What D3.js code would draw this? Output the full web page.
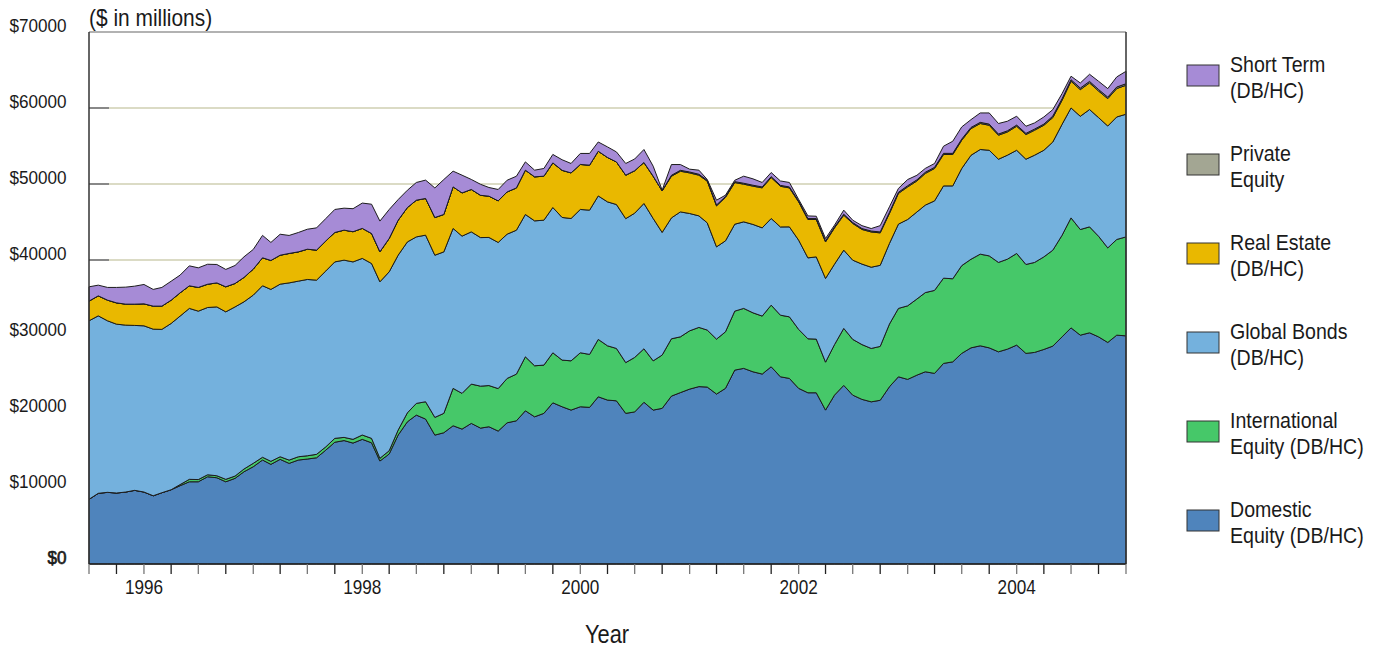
<!DOCTYPE html>
<html>
<head>
<meta charset="utf-8">
<script src="https://cdn.jsdelivr.net/npm/d3@7"></script>
<style>
  html, body { margin: 0; padding: 0; background: #ffffff; }
  svg { display: block; font-family: "Liberation Sans", Arial, sans-serif; }
</style>
</head>
<body>
<svg id="chart" width="1375" height="647"></svg>
<script>
// Monthly asset values, $ in millions, July 1995 through January 2005
const months = d3.timeMonth.range(new Date(1995, 6, 1), new Date(2005, 1, 1));

const domesticEquity = [
  8510, 9300, 9430, 9340, 9470, 9690, 9470, 8980, 9380, 9770,
  10300, 10820, 10820, 11480, 11350, 10820, 11270, 12140, 12800, 13680,
  13110, 13770, 13240, 13680, 13810, 13980, 14990, 16020, 16240, 15910,
  16400, 15950, 13550, 14470, 16960, 18710, 19590, 19070, 16960, 17270,
  18190, 17750, 18500, 17880, 18060, 17490, 18580, 18840, 20160, 19370,
  19820, 21210, 20690, 20250, 20690, 20610, 22000, 21570, 21470, 19820,
  20010, 21280, 20250, 20480, 22090, 22550, 23010, 23340, 23280, 22360,
  23110, 25510, 25740, 25290, 24990, 25950, 24630, 24420, 23110, 22530,
  22530, 20250, 22220, 23500, 22220, 21660, 21340, 21540, 23320, 24630,
  24290, 24850, 25290, 25080, 26390, 26600, 27710, 28440, 28710, 28440,
  27920, 28270, 28800, 27710, 27840, 28230, 28670, 29890, 31070, 30110,
  30420, 29890, 29150, 30110, 30020
];

const internationalEquity = [
  0, 0, 0, 0, 0, 0, 0, 0, 0, 0,
  150, 320, 290, 260, 260, 320, 300, 360, 450, 360,
  400, 340, 430, 430, 430, 450, 430, 510, 420, 490,
  570, 580, 360, 430, 660, 1180, 1540, 2280, 2330, 2550,
  4920, 4700, 5170, 5520, 5420, 5590, 5840, 6140, 7100, 6710,
  6350, 6580, 6140, 6480, 7100, 6970, 7550, 7140, 6890, 6680,
  7170, 7040, 6480, 7010, 7540, 7340, 7670, 7790, 7500, 7230,
  7440, 7760, 7890, 7760, 7630, 8110, 8110, 8100, 7760, 7100,
  7060, 6310, 6640, 7500, 7340, 7210, 7020, 7090, 8250, 9000,
  9680, 10020, 10420, 10920, 11220, 10930, 11550, 11660, 12060, 12100,
  11760, 11840, 12060, 11700, 11840, 12180, 12620, 13370, 14470, 13900,
  13940, 13240, 12440, 12590, 13020
];

const globalBonds = [
  23490, 23350, 22570, 22220, 21960, 21700, 21870, 21920, 21490, 21880,
  22170, 22490, 22160, 22010, 22220, 22040, 22260, 22000, 22130, 22570,
  22620, 22710, 23320, 23110, 23200, 22920, 23140, 23220, 23320, 23350,
  23240, 23010, 23220, 23540, 23010, 22490, 21910, 21920, 21340, 21250,
  21040, 20690, 20030, 19550, 19490, 19230, 18980, 18940, 18730, 19070,
  19070, 19120, 18770, 18730, 18860, 18980, 18880, 18940, 18940, 18940,
  18980, 19120, 18730, 16140, 15910, 16440, 15440, 14680, 14110, 12140,
  11970, 11440, 11390, 11630, 11610, 11400, 11610, 11840, 11740, 10650,
  10820, 11010, 10590, 10300, 10420, 10590, 10690, 10670, 10610, 11090,
  11360, 11450, 11510, 11780, 12140, 12220, 12780, 13680, 13770, 13900,
  13580, 13680, 13580, 13850, 14110, 14030, 14240, 14600, 14470, 14900,
  15440, 15610, 16040, 16120, 16140
];

const realEstate = [
  2590, 2630, 2720, 2800, 2760, 2800, 2890, 3030, 3060, 3060,
  3060, 2970, 3120, 3060, 3160, 3290, 3080, 3210, 3420, 3680,
  3810, 3810, 3870, 3850, 3980, 3950, 3950, 3870, 3950, 3970,
  3950, 3950, 3950, 4390, 4600, 4520, 4830, 4830, 4960, 4920,
  5470, 5690, 5580, 5560, 5430, 5470, 5560, 5560, 5830, 5790,
  5790, 5870, 6200, 6000, 5920, 5920, 5880, 5840, 5600, 5720,
  5590, 5390, 5560, 5470, 5480, 5350, 5340, 5350, 5480, 5390,
  5710, 5480, 4960, 5040, 5260, 5390, 5350, 5130, 5040, 5050,
  4920, 4810, 4770, 4600, 4830, 4560, 4640, 4270, 3950, 4040,
  4290, 4080, 4170, 4260, 4130, 4130, 3720, 3510, 3420, 3290,
  3160, 3060, 3160, 3250, 3290, 3290, 3210, 3160, 3510, 3510,
  3500, 3500, 3600, 3740, 3810
];

const privateEquity = [
  0, 0, 0, 0, 0, 0, 0, 0, 0, 0,
  0, 0, 0, 0, 0, 0, 0, 0, 0, 0,
  0, 0, 0, 0, 0, 0, 0, 0, 0, 0,
  0, 0, 0, 0, 0, 0, 0, 0, 0, 0,
  0, 0, 0, 0, 0, 0, 0, 0, 0, 0,
  0, 0, 0, 0, 0, 0, 0, 0, 0, 0,
  0, 0, 0, 0, 120, 120, 120, 120, 120, 120,
  120, 120, 120, 120, 120, 120, 120, 120, 120, 120,
  120, 120, 120, 120, 120, 120, 120, 120, 150, 150,
  150, 150, 150, 150, 150, 150, 150, 150, 150, 150,
  150, 150, 150, 150, 150, 150, 200, 200, 200, 200,
  200, 200, 200, 200, 200
];

const shortTerm = [
  1880, 1410, 1670, 2030, 2240, 2370, 2550, 2200, 2460, 2500,
  2330, 2630, 2580, 2630, 2420, 2290, 2370, 2710, 2590, 2950,
  2370, 2760, 2370, 2550, 2630, 2930, 2950, 3030, 2890, 3030,
  3330, 3850, 4040, 3810, 2720, 2280, 2330, 2410, 3890, 4600,
  2070, 2330, 1320, 1450, 1140, 1500, 1540, 1540, 1090, 880,
  1010, 1110, 1390, 1240, 1450, 1540, 1220, 1390, 1320, 1540,
  1540, 1710, 1320, 90, 1420, 760, 370, 540, 100, 630,
  180, 180, 930, 840, 590, 540, 580, 590, 200, 350,
  310, 330, 240, 540, 310, 380, 330, 830, 720, 510,
  820, 600, 510, 510, 940, 1600, 1600, 1030, 1240, 1470,
  1390, 1260, 1170, 940, 810, 940, 850, 680, 460, 670,
  940, 1080, 1120, 1330, 1640
];

const seriesKeys = ["domestic", "international", "bonds", "realEstate", "privateEquity", "shortTerm"];
const seriesColors = {
  domestic: "#4f84bc",
  international: "#46c869",
  bonds: "#74b1dd",
  realEstate: "#e9b800",
  privateEquity: "#a3a693",
  shortTerm: "#a68bd6"
};
const legendItems = [
  { key: "shortTerm", lines: ["Short Term", "(DB/HC)"] },
  { key: "privateEquity", lines: ["Private", "Equity"] },
  { key: "realEstate", lines: ["Real Estate", "(DB/HC)"] },
  { key: "bonds", lines: ["Global Bonds", "(DB/HC)"] },
  { key: "international", lines: ["International", "Equity (DB/HC)"] },
  { key: "domestic", lines: ["Domestic", "Equity (DB/HC)"] }
];
const yTickValues = [0, 10000, 20000, 30000, 40000, 50000, 60000, 70000];
const yearLabels = [1996, 1998, 2000, 2002, 2004];

const rows = months.map((d, i) => ({
  date: d,
  domestic: domesticEquity[i],
  international: internationalEquity[i],
  bonds: globalBonds[i],
  realEstate: realEstate[i],
  privateEquity: privateEquity[i],
  shortTerm: shortTerm[i]
}));

const svg = d3.select("#chart");
const plot = { left: 89, right: 1126, top: 32, bottom: 564 };

const x = d3.scaleTime()
  .domain([new Date(1995, 6, 1), new Date(2005, 0, 1)])
  .range([plot.left, plot.right]);
const y = d3.scaleLinear()
  .domain([0, 70000])
  .range([plot.bottom, plot.top]);

// text drawn slightly condensed horizontally
function label(parent, txt, px, py, size, sx, anchor) {
  return parent.append("text")
    .attr("transform", `translate(${px},${py}) scale(${sx},1)`)
    .attr("text-anchor", anchor || "start")
    .attr("font-size", size)
    .attr("fill", "#1a1a1a")
    .text(txt);
}

// horizontal gridlines and short tick marks on the left edge
const grid = svg.append("g");
yTickValues.filter(v => v > 0 && v < 70000).forEach(v => {
  grid.append("line")
    .attr("x1", plot.left + 20).attr("x2", plot.right)
    .attr("y1", y(v)).attr("y2", y(v))
    .attr("stroke", "#cfcfb2").attr("stroke-width", 1.6);
  grid.append("line")
    .attr("x1", plot.left).attr("x2", plot.left + 20)
    .attr("y1", y(v)).attr("y2", y(v))
    .attr("stroke", "#555").attr("stroke-width", 1.4);
});

// stacked areas
const stacked = d3.stack().keys(seriesKeys)(rows);
const area = d3.area()
  .x(d => x(d.data.date))
  .y0(d => y(d[0]))
  .y1(d => y(d[1]));

svg.append("g")
  .selectAll("path")
  .data(stacked)
  .join("path")
  .attr("d", area)
  .attr("fill", d => seriesColors[d.key])
  .attr("stroke", "#1c1c1c")
  .attr("stroke-width", 1)
  .attr("stroke-linejoin", "round");

// frame
const frame = svg.append("g").attr("fill", "none");
frame.append("line").attr("x1", plot.left).attr("x2", plot.right)
  .attr("y1", plot.top).attr("y2", plot.top)
  .attr("stroke", "#666").attr("stroke-width", 1.2);
frame.append("line").attr("x1", plot.left).attr("x2", plot.left)
  .attr("y1", plot.top).attr("y2", plot.bottom)
  .attr("stroke", "#333").attr("stroke-width", 1.5);
frame.append("line").attr("x1", plot.right).attr("x2", plot.right)
  .attr("y1", plot.top).attr("y2", plot.bottom)
  .attr("stroke", "#333").attr("stroke-width", 1.5);
frame.append("line").attr("x1", plot.left).attr("x2", plot.right)
  .attr("y1", plot.bottom).attr("y2", plot.bottom)
  .attr("stroke", "#222").attr("stroke-width", 1.6);

// quarterly ticks under the time axis
const quarterTicks = d3.timeMonth.every(3).range(new Date(1995, 6, 1), new Date(2005, 0, 2));
svg.append("g")
  .selectAll("line")
  .data(quarterTicks)
  .join("line")
  .attr("x1", d => x(d)).attr("x2", d => x(d))
  .attr("y1", plot.bottom).attr("y2", plot.bottom + 10)
  .attr("stroke", (d, i) => i % 2 ? "#222" : "#777")
  .attr("stroke-width", 1.3);

// year labels
const xl = svg.append("g");
yearLabels.forEach(yr => {
  label(xl, String(yr), x(new Date(yr, 0, 1)), 594, 19.5, 0.88, "middle");
});

// dollar labels; the zero label is set heavier
const yl = svg.append("g");
yTickValues.forEach(v => {
  const t = label(yl, "$" + v, 66.5, y(v), 19, 0.9, "end");
  if (v === 0) t.attr("stroke", "#1a1a1a").attr("stroke-width", 0.7);
});

// titles
label(svg, "($ in millions)", 89, 26, 23, 0.91, "start");
label(svg, "Year", 607, 643, 26, 0.84, "middle");

// legend
const lg = svg.append("g");
legendItems.forEach((item, k) => {
  const top = 65 + k * 89;
  lg.append("rect")
    .attr("x", 1187).attr("y", top)
    .attr("width", 32).attr("height", 21)
    .attr("fill", seriesColors[item.key])
    .attr("stroke", "#333").attr("stroke-width", 1);
  item.lines.forEach((ln, j) => {
    label(lg, ln, 1230, top + 7 + j * 25.5, 22.5, 0.87, "start");
  });
});
</script>
</body>
</html>
